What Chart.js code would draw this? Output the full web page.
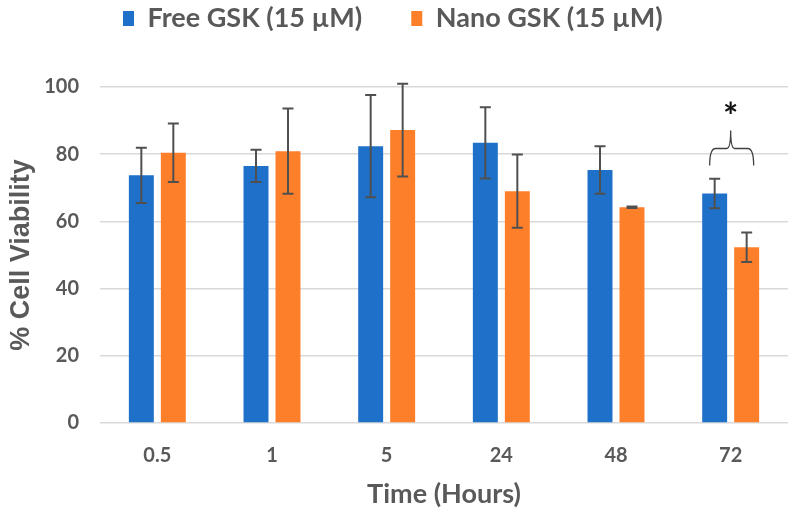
<!DOCTYPE html>
<html>
<head>
<meta charset="utf-8">
<script src="https://cdn.jsdelivr.net/npm/chart.js@4/dist/chart.umd.min.js"></script>
<style>
    body { margin: 0; background: #ffffff; }
    #myChart { display: block; }
</style>
</head>
<body>
<canvas id="myChart" width="794" height="517"></canvas>
<script>
    // datos
    const times = ['0.5', '1', '5', '24', '48', '72'];
    const freeGsk = [73.7, 76.5, 82.4, 83.4, 75.3, 68.3];
    const freeGskErr = [8.2, 4.8, 15.2, 10.6, 7.1, 4.4];
    const nanoGsk = [80.4, 80.9, 87.2, 69.0, 64.2, 52.3];
    const nanoGskErr = [8.7, 12.7, 13.8, 10.9, 0.2, 4.4];
    const sigIndex = 5;      // grupo con asterisco (72 h)
    const sigBraceAt = 81.7; // altura de la llave

    const textColor = '#595959';
    const fontName = 'Lato';

    // barras de error
    const errorBars = {
        id: 'errorBars',
        afterDatasetsDraw: function (chart) {
            const ctx = chart.ctx;
            const y = chart.scales.y;
            const errs = [freeGskErr, nanoGskErr];
            ctx.save();
            ctx.strokeStyle = '#505050';
            ctx.lineWidth = 2;
            chart.data.datasets.forEach((ds, di) => {
                const meta = chart.getDatasetMeta(di);
                meta.data.forEach((bar, i) => {
                    const v = ds.data[i];
                    const e = errs[di][i];
                    const top = y.getPixelForValue(v + e);
                    const bot = y.getPixelForValue(v - e);
                    ctx.beginPath();
                    ctx.moveTo(bar.x, top);
                    ctx.lineTo(bar.x, bot);
                    ctx.moveTo(bar.x - 5.5, top);
                    ctx.lineTo(bar.x + 5.5, top);
                    ctx.moveTo(bar.x - 5.5, bot);
                    ctx.lineTo(bar.x + 5.5, bot);
                    ctx.stroke();
                });
            });
            ctx.restore();
        }
    };

    // llave y asterisco
    const significance = {
        id: 'significance',
        afterDatasetsDraw: function (chart) {
            const ctx = chart.ctx;
            const cx = chart.scales.x.getPixelForValue(sigIndex);
            const by = chart.scales.y.getPixelForValue(sigBraceAt);
            const l = cx - 21, r = cx + 23;
            ctx.save();
            ctx.strokeStyle = '#404040';
            ctx.lineWidth = 1.3;
            ctx.beginPath();
            ctx.moveTo(l, by + 17);
            ctx.quadraticCurveTo(l, by, l + 6, by);
            ctx.lineTo(cx - 4, by);
            ctx.quadraticCurveTo(cx, by, cx, by - 18);
            ctx.quadraticCurveTo(cx, by, cx + 4, by);
            ctx.lineTo(r - 6, by);
            ctx.quadraticCurveTo(r, by, r, by + 17);
            ctx.stroke();
            ctx.fillStyle = '#111111';
            ctx.font = 'bold 36px ' + fontName;
            ctx.textAlign = 'center';
            ctx.textBaseline = 'middle';
            ctx.fillText('*', cx, by - 31);
            ctx.restore();
        }
    };

    // sitio de la leyenda
    const legendPlace = {
        id: 'legendPlace',
        beforeInit: function (chart) {
            const origFit = chart.legend.fit;
            chart.legend.fit = function () {
                origFit.bind(chart.legend)();
                this.height = 87;
            };
        },
        afterLayout: function (chart) {
            chart.legend.left = 123 - 49;
            chart.legend.top = 5 - 49;
        }
    };

    const ctx = document.getElementById('myChart').getContext('2d');
    const myChart = new Chart(ctx, {
        type: 'bar',
        data: {
            labels: times,
            datasets: [{
                label: 'Free GSK (15 µM)',
                data: freeGsk,
                backgroundColor: '#1f70c8',
                borderWidth: 0
            }, {
                label: 'Nano GSK (15 µM)',
                data: nanoGsk,
                backgroundColor: '#fe7f2a',
                borderWidth: 0
            }]
        },
        options: {
            responsive: false,
            animation: false,
            categoryPercentage: 0.558,
            barPercentage: 0.78,
            layout: {
                padding: { left: 0, right: 6, top: 0, bottom: 0 }
            },
            plugins: {
                tooltip: { enabled: false },
                legend: {
                    position: 'top',
                    align: 'start',
                    labels: {
                        boxWidth: 11,
                        boxHeight: 15,
                        padding: 49,
                        color: textColor,
                        font: { family: fontName, size: 27, weight: 'bold' }
                    }
                }
            },
            scales: {
                x: {
                    grid: { display: false, drawTicks: false },
                    border: { display: false },
                    ticks: {
                        color: textColor,
                        padding: 21,
                        font: { family: fontName, size: 20, weight: 'bold' }
                    },
                    title: {
                        display: true,
                        text: 'Time (Hours)',
                        color: textColor,
                        padding: { top: 0, bottom: 7 },
                        font: { family: fontName, size: 27, weight: 'bold' }
                    },
                    afterFit: function (scale) {
                        scale.height = 94;
                    }
                },
                y: {
                    min: 0,
                    max: 100,
                    grid: { color: '#d9d9d9', lineWidth: 1.5, drawTicks: false },
                    border: { display: false },
                    ticks: {
                        stepSize: 20,
                        color: textColor,
                        padding: 21,
                        font: { family: fontName, size: 20, weight: 'bold' }
                    },
                    title: {
                        display: true,
                        text: '% Cell Viability',
                        color: textColor,
                        padding: { top: 5, bottom: 0 },
                        font: { family: 'Liberation Sans', size: 27, weight: 'bold' }
                    },
                    afterFit: function (scale) {
                        scale.width = 100;
                    }
                }
            }
        },
        plugins: [errorBars, significance, legendPlace]
    });
</script>
</body>
</html>
